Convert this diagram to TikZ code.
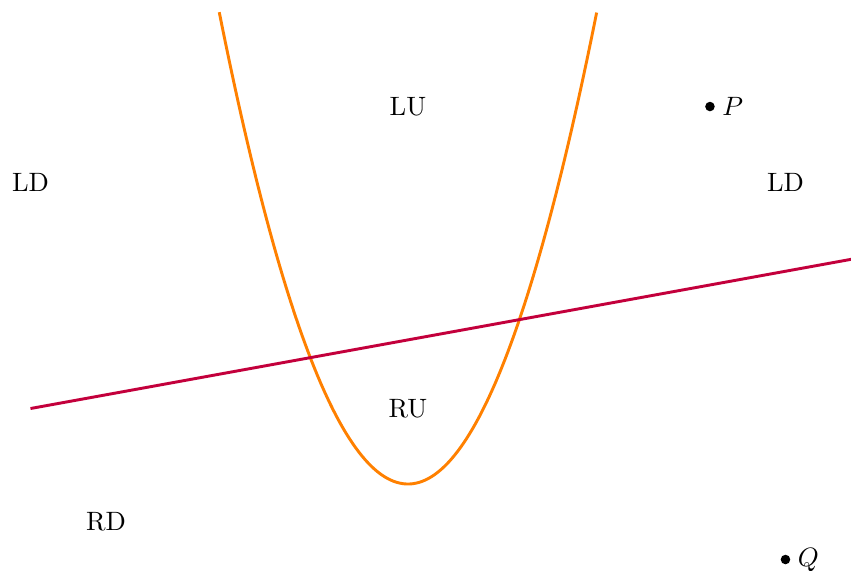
\documentclass[tikz,border=0pt]{standalone}
\usetikzlibrary{positioning}
\begin{document}
\begin{tikzpicture}[
  curve/.style={color={rgb,255:red,255;green,128;blue,0}, line width=1.1pt},
  straight/.style={color={rgb,255:red,195;green,0;blue,60}, line width=1.1pt},
  lbl/.style={inner sep=0pt},
  dot/.style={circle, fill=black, inner sep=0pt, minimum size=3.6pt}
]
\useasboundingbox (-5.404,-1.139) rectangle (5.868,6.411);
\draw[curve] plot[domain=-2.5:2.5, samples=120] (\x,{\x*\x});
\coordinate (L1) at (-5,1);
\coordinate (L2) at (5.868,2.976);
\draw[straight] (L1) -- (L2);
\node[lbl] (LU) at (0,5) {LU};
\node[lbl] (LDa) at (-5,4) {LD};
\node[lbl] (LDb) at (5,4) {LD};
\node[lbl] (RU) at (0,1) {RU};
\node[lbl] (RD) at (-4,-0.5) {RD};
\node[dot] (P) at (4,5) {};
\node[right=2.5pt of P, inner sep=0pt] (Plbl) {$P$};
\node[dot] (Q) at (5,-1) {};
\node[right=2.5pt of Q, inner sep=0pt] (Qlbl) {$Q$};
\end{tikzpicture}
\end{document}
